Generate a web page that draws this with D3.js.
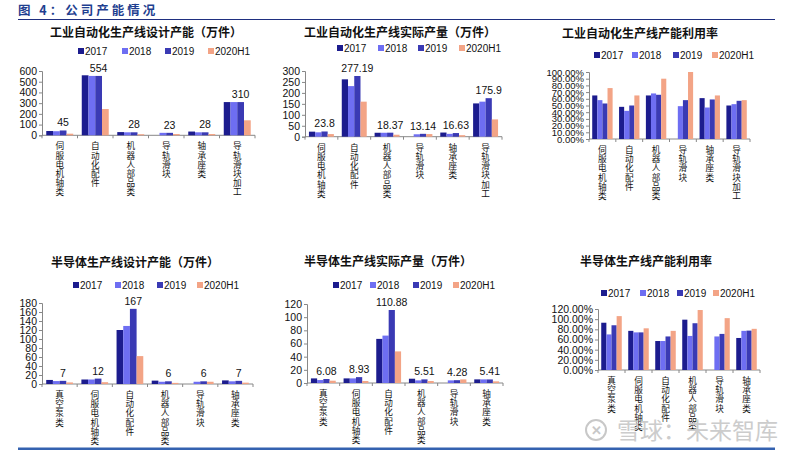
<!DOCTYPE html>
<html>
<head>
<meta charset="utf-8">
<script src="https://cdn.jsdelivr.net/npm/d3@7"></script>
<style>
  body { margin: 0; background: #fff; }
  svg text { font-family: Arial, "Liberation Sans", "Noto Sans CJK SC", sans-serif; }
</style>
</head>
<body>
<div id="chart"></div>
<script>
const width = 800,
  height = 453;

// ---- data ----
const years = ['2017', '2018', '2019', '2020H1'];
const catsInd = ['伺服电机轴类', '自动化配件', '机器人部品类', '导轨滑块', '轴承座类', '导轨滑块加工'];
const catsSemi = ['真空泵类', '伺服电机轴类', '自动化配件', '机器人部品类', '导轨滑块', '轴承座类'];

// values per category: [2017, 2018, 2019, 2020H1]
const indDesign = [[40, 38, 45, 15], [560, 554, 554, 245], [30, 28, 28, 10], [null, 23, 23, 12], [35, 28, 28, 12], [310, 310, 310, 140]];
const indDesignLabels = ['45', '554', '28', '23', '28', '310'];

const indOutput = [[23, 20, 23.8, 12], [262, 231, 277.19, 160], [18, 18, 18.37, 9], [null, 11, 13.14, 12], [19, 13, 16.63, 7], [152, 160, 175.9, 79]];
const indOutputLabels = ['23.8', '277.19', '18.37', '13.14', '16.63', '175.9'];

const indUtil = [[0.65, 0.58, 0.53, 0.76], [0.48, 0.42, 0.50, 0.65], [0.65, 0.68, 0.66, 0.90], [null, 0.49, 0.58, 1.00], [0.61, 0.47, 0.59, 0.65], [0.50, 0.52, 0.57, 0.58]];

const semiDesign = [[9, 6.5, 7, 3.5], [10, 10, 12, 4], [120, 129, 167, 62], [7.5, 5, 6, 2.5], [null, 5, 6, 5], [8, 6, 7, 3]];
const semiDesignLabels = ['7', '12', '167', '6', '6', '7'];

const semiOutput = [[7, 4.5, 6.08, 3.5], [7, 7, 8.93, 3], [67, 72, 110.88, 48], [6.5, 4, 5.51, 3], [null, 4, 4.28, 5.5], [5.5, 5.5, 5.41, 2.5]];
const semiOutputLabels = ['6.08', '8.93', '110.88', '5.51', '4.28', '5.41'];

const semiUtil = [[0.93, 0.70, 0.88, 1.06], [0.77, 0.74, 0.74, 0.82], [0.57, 0.57, 0.66, 0.77], [0.99, 0.67, 0.92, 1.18], [null, 0.66, 0.71, 1.02], [0.63, 0.77, 0.775, 0.81]];

const colors = ['#1c1c8e', '#6e6ef2', '#3a3ab4', '#f3a486'];

const svg = d3.select('#chart').append('svg')
  .attr('width', width)
  .attr('height', height);

// ---- header ----
svg.append('text')
  .attr('x', 18).attr('y', 15)
  .attr('fill', '#1f3f90')
  .style('font-family', '"Noto Sans CJK SC", sans-serif')
  .style('font-weight', 'bold')
  .style('font-size', '12.5px')
  .style('letter-spacing', '3px')
  .text('图 4：公司产能情况');

svg.append('line')
  .attr('x1', 18).attr('x2', 775)
  .attr('y1', 19.5).attr('y2', 19.5)
  .attr('stroke', '#1f2f80').attr('stroke-width', 1);

svg.append('rect')
  .attr('x', 18).attr('y', 447.5)
  .attr('width', 757).attr('height', 2.5)
  .attr('fill', '#3462b0');

// ---- chart layouts ----
const charts = [
  { title: '工业自动化生产线设计产能（万件）', cats: catsInd, data: indDesign, labels: indDesignLabels,
    max: 600, step: 100, fmt: d3.format('d'), tx: 146, ty: 32, ly: 51, lx: [78, 122, 165, 208],
    x0: 42, x1: 255, yT: 71, yB: 135.3 },
  { title: '工业自动化生产线实际产量（万件）', cats: catsInd, data: indOutput, labels: indOutputLabels,
    max: 300, step: 50, fmt: d3.format('d'), tx: 400, ty: 32, ly: 48, lx: [337, 378, 418, 459],
    x0: 305, x1: 502, yT: 71, yB: 136.7 },
  { title: '工业自动化生产线产能利用率', cats: catsInd, data: indUtil, labels: null,
    max: 1, step: 0.1, fmt: d3.format('.2%'), tx: 640, ty: 33, ly: 55, lx: [594, 632, 673, 712],
    x0: 589, x1: 750, yT: 72, yB: 139, small: true },
  { title: '半导体生产线设计产能（万件）', cats: catsSemi, data: semiDesign, labels: semiDesignLabels,
    max: 180, step: 20, fmt: d3.format('d'), tx: 135, ty: 262, ly: 285, lx: [73, 115, 157, 197],
    x0: 42, x1: 253, yT: 303, yB: 384 },
  { title: '半导体生产线实际产量（万件）', cats: catsSemi, data: semiOutput, labels: semiOutputLabels,
    max: 120, step: 20, fmt: d3.format('d'), tx: 388, ty: 261, ly: 285, lx: [333, 370, 413, 453],
    x0: 307, x1: 503, yT: 304, yB: 383 },
  { title: '半导体生产线产能利用率', cats: catsSemi, data: semiUtil, labels: null,
    max: 1.2, step: 0.2, fmt: d3.format('.2%'), tx: 646, ty: 261, ly: 293, lx: [601, 640, 677, 713],
    x0: 598, x1: 760, yT: 309, yB: 370 }
];

charts.forEach(drawChart);

function drawChart(c) {
  const g = svg.append('g');

  g.append('text')
    .attr('x', c.tx).attr('y', c.ty + 4.5)
    .attr('text-anchor', 'middle')
    .attr('fill', '#111')
    .style('font-family', '"Noto Sans CJK SC", sans-serif')
    .style('font-weight', 'bold')
    .style('font-size', '12px')
    .text(c.title);

  // legend
  years.forEach((yr, i) => {
    g.append('rect')
      .attr('x', c.lx[i]).attr('y', c.ly - 3)
      .attr('width', 6).attr('height', 6)
      .attr('fill', colors[i]);
    g.append('text')
      .attr('x', c.lx[i] + 7).attr('y', c.ly + 3.5)
      .attr('fill', '#111')
      .style('font-size', '10px')
      .text(yr);
  });

  const x = d3.scaleBand()
    .domain(c.cats)
    .range([c.x0, c.x1])
    .paddingInner(0.24)
    .paddingOuter(0.12);

  const xi = d3.scaleBand()
    .domain(years)
    .range([0, x.bandwidth()]);

  const y = d3.scaleLinear()
    .domain([0, c.max])
    .range([c.yB, c.yT]);

  const ticks = d3.range(0, c.max + c.step / 2, c.step);

  // y axis
  const yAxis = g.append('g')
    .attr('transform', `translate(${c.x0},0)`)
    .call(d3.axisLeft(y).tickValues(ticks).tickFormat(c.fmt).tickSize(3).tickPadding(2));
  yAxis.select('.domain').attr('stroke', '#888');
  yAxis.selectAll('.tick line').attr('stroke', '#888');
  yAxis.selectAll('.tick text')
    .attr('fill', '#111')
    .style('font-size', c.small ? '9.5px' : '10.5px')
    .style('font-family', 'Arial, "Liberation Sans", sans-serif');

  // x axis line with ticks at category boundaries
  const xBase = g.append('g');
  xBase.append('line')
    .attr('x1', c.x0).attr('x2', c.x1)
    .attr('y1', c.yB).attr('y2', c.yB)
    .attr('stroke', '#888');
  d3.range(0, c.cats.length + 1).forEach(i => {
    const xx = c.x0 + (c.x1 - c.x0) * i / c.cats.length;
    xBase.append('line')
      .attr('x1', xx).attr('x2', xx)
      .attr('y1', c.yB).attr('y2', c.yB + 3)
      .attr('stroke', '#888');
  });

  // bars
  const groups = g.selectAll('.grp')
    .data(c.cats.map((cat, i) => ({ cat, vals: c.data[i], label: c.labels ? c.labels[i] : null })))
    .enter().append('g')
    .attr('transform', d => `translate(${x(d.cat)},0)`);

  groups.selectAll('rect')
    .data(d => d.vals.map((v, i) => ({ v, yr: years[i], i })).filter(e => e.v != null))
    .enter().append('rect')
    .attr('x', e => xi(e.yr))
    .attr('width', xi.bandwidth())
    .attr('y', e => y(e.v))
    .attr('height', e => c.yB - y(e.v))
    .attr('fill', e => colors[e.i]);

  // data labels on 2019 bars
  if (c.labels) {
    groups.append('text')
      .attr('x', xi('2019') + xi.bandwidth() / 2)
      .attr('y', d => y(d.vals[2]) - 4)
      .attr('text-anchor', 'middle')
      .attr('fill', '#111')
      .style('font-size', '10.5px')
      .text(d => d.label);
  }

  // vertical category labels, one character per line
  groups.each(function (d) {
    const t = d3.select(this).append('text')
      .attr('fill', '#111')
      .attr('text-anchor', 'middle')
      .style('font-family', '"Noto Sans CJK SC", sans-serif')
      .style('font-size', '8.6px');
    Array.from(d.cat).forEach((ch, k) => {
      t.append('tspan')
        .attr('x', x.bandwidth() / 2)
        .attr('y', c.yB + 14 + k * 9.2)
        .text(ch);
    });
  });
}

// ---- watermark ----
const wm = svg.append('g');
wm.append('circle')
  .attr('cx', 596).attr('cy', 430).attr('r', 10)
  .attr('fill', 'none').attr('stroke', '#c8c8c8').attr('stroke-width', 2);
wm.append('text')
  .attr('x', 596).attr('y', 435)
  .attr('text-anchor', 'middle')
  .attr('fill', '#c8c8c8')
  .style('font-size', '13px')
  .style('font-weight', 'bold')
  .text('✕');
wm.append('text')
  .attr('x', 617).attr('y', 439)
  .attr('fill', '#cccccc')
  .style('font-family', '"Noto Sans CJK SC", sans-serif')
  .style('font-size', '23px')
  .text('雪球：未来智库');
</script>
</body>
</html>
